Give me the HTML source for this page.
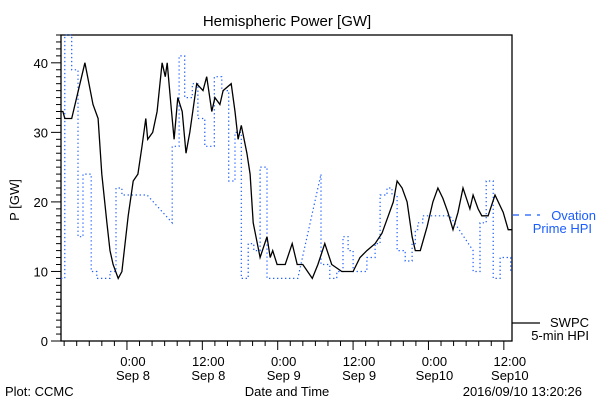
<!DOCTYPE html>
<html><head><meta charset="utf-8"><style>
body{margin:0;background:#fff;}
svg text{font-family:"Liberation Sans",sans-serif;}
</style></head><body>
<svg id="chart" width="600" height="400" viewBox="0 0 600 400" xmlns="http://www.w3.org/2000/svg">
<rect width="600" height="400" fill="#fff"/>
<text x="287" y="26" font-size="15" text-anchor="middle">Hemispheric Power [GW]</text>
<text x="19" y="200" font-size="13" text-anchor="middle" transform="rotate(-90 19 200)">P [GW]</text>
<text x="287" y="396" font-size="13" text-anchor="middle">Date and Time</text>
<text x="5" y="396" font-size="13">Plot: CCMC</text>
<text x="582" y="396" font-size="13" text-anchor="end">2016/09/10 13:20:26</text>
<g id="axes"></g>
<g id="series"></g>
<g>
<line x1="513" y1="215" x2="540" y2="215" stroke="#1a5cff" stroke-width="1.2" stroke-dasharray="6,6"/>
<text x="596" y="220" font-size="13" fill="#1a5cff" text-anchor="end">Ovation</text>
<text x="592" y="233" font-size="13" fill="#1a5cff" text-anchor="end">Prime HPI</text>
<line x1="512" y1="323" x2="540" y2="323" stroke="#000" stroke-width="1.2"/>
<text x="589" y="327" font-size="13" text-anchor="end">SWPC</text>
<text x="589" y="340" font-size="13" text-anchor="end">5-min HPI</text>
</g>
</svg>
<script>
// hours relative to Sep 8 00:00
const blackT=[-10.5,-10.2,-9.9,-8.8,-6.7,-5.4,-4.6,-4.0,-3.2,-2.7,-2.2,-1.4,-0.8,0.2,1.0,1.75,2.4,3.0,3.3,4.1,4.8,5.6,6.1,6.4,7.0,7.5,8.1,8.8,9.4,10.0,11.1,12.1,12.7,13.5,14.0,14.8,15.3,16.6,17.2,17.7,18.2,19.1,19.6,20.1,21.2,22.3,22.8,23.2,23.9,25.2,26.3,27.1,28.0,29.5,30.4,31.5,32.6,34.2,36,37.1,38.2,39.5,40.6,41.6,42.4,43,43.8,44.6,45.4,45.9,46.7,47.8,48.7,49.5,50.3,51.1,51.9,52.7,53.5,54.6,55.1,55.9,56.5,57.5,58.6,59.9,60.7,61.3];
const blackV=[33,33,32,32,40,34,32,24,17,13,11,9,10,18,23,24,28,32,29,30,33,40,38,40,34,29,35,33,27,30,37,36,38,33,35,34,36,37,33,29,31,27,24,17,12,15,12,13,11,11,14,11,11,9,11,14,11,10,10,12,13,14,15.5,18,20,23,22,20,15,13,13,16.5,20,22,20.5,18.5,16,18.5,22,19,21,19,18,18,21,18.5,16,16];
const blueT=[-10.5,-9.9,-9.9,-8.8,-8.8,-7.8,-7.8,-7.0,-7.0,-5.7,-5.7,-4.8,-4.8,-2.7,-2.7,-1.75,-1.75,-0.8,-0.8,3.2,7.2,7.2,8.3,8.3,9.2,9.2,10.4,10.4,11.3,11.3,12.4,12.4,13.9,13.9,15.1,15.1,16.2,16.2,17.2,17.2,18.2,18.2,19.3,19.3,20.2,20.2,21.2,21.2,22.3,22.3,27.2,30.9,30.9,32.3,32.3,33.4,33.4,34.4,34.4,35.2,35.2,36,36,38.2,38.2,39.5,39.5,40.3,40.3,41.4,41.4,42.2,42.2,43,43,44.3,44.3,45.4,45.4,45.9,45.9,46.3,46.3,47.1,47.1,51.4,55.1,55.1,56.2,56.2,57.2,57.2,58.3,58.3,59.4,59.4,61.1,61.1];
const blueV=[9,9,44,44,39,39,15,15,24,24,10,10,9,9,10,10,22,22,21,21,17,28,28,41,41,35,35,37,37,32,32,28,28,38,38,36,36,23,23,30,30,9,9,14,14,13,13,25,25,9,9,24,11,11,9,9,10,10,15,15,13,13,10,10,12,12,14,14,21,21,22,22,21,21,13,13,11.5,11.5,14,14,16,16,17,17,18,18,13,10,10,17,17,23,23,9,9,12,12,10];
const yTicks=[0,10,20,30,40];
const xTickHours=[0,12,24,36,48,60];
const xTickLine1=["0:00","12:00","0:00","12:00","0:00","12:00"];
const xTickLine2=["Sep 8","Sep 8","Sep 9","Sep 9","Sep10","Sep10"];

const L=61,R=512,T=35,B=341;
const tMin=-10.5,tMax=61.3,vMin=0,vMax=44;
const X=t=>L+(t-tMin)/(tMax-tMin)*(R-L);
const Y=v=>B-(Math.min(v,vMax)-vMin)/(vMax-vMin)*(B-T);
const NS="http://www.w3.org/2000/svg";
function mk(tag,attrs,parent){const e=document.createElementNS(NS,tag);for(const k in attrs)e.setAttribute(k,attrs[k]);parent.appendChild(e);return e;}
const axes=document.getElementById('axes'),series=document.getElementById('series');
const frame=mk('rect',{x:L,y:T,width:R-L,height:B-T,fill:'none',stroke:'#000','stroke-width':1.3},axes);


for(let v=0;v<=44;v++){
  const major=v%10===0;
  const tk=mk('line',{x1:L-(major?10:5),x2:L,y1:Y(v),y2:Y(v),stroke:'#000','stroke-width':1},axes);
  
  
}
yTicks.forEach(v=>{
  const t=mk('text',{x:48,y:Y(v)+5,'font-size':13,'text-anchor':'end'},axes);
  t.textContent=v;
  
  
});
for(let h=-10;h<=61;h+=2){
  const major=h%12===0;
  const tk=mk('line',{x1:X(h),x2:X(h),y1:B,y2:B+(major?9:5),stroke:'#000','stroke-width':1},axes);
  
  
}
xTickHours.forEach((h,i)=>{
  const a=mk('text',{x:X(h)+6,y:366,'font-size':13,'text-anchor':'middle'},axes);
  a.textContent=xTickLine1[i];
  
  
  const b=mk('text',{x:X(h)+6,y:380,'font-size':13,'text-anchor':'middle'},axes);
  b.textContent=xTickLine2[i];
  
  
});
const bp=blueT.map((t,i)=>X(t).toFixed(1)+','+Y(blueV[i]).toFixed(1)).join(' ');
const blue=mk('polyline',{points:bp,fill:'none',stroke:'#1a5cff','stroke-width':1.2,'stroke-dasharray':'1.3,2.7'},series);


const kp=blackT.map((t,i)=>X(t).toFixed(1)+','+Y(blackV[i]).toFixed(1)).join(' ');
const blk=mk('polyline',{points:kp,fill:'none',stroke:'#000','stroke-width':1.3},series);


</script>
</body></html>
